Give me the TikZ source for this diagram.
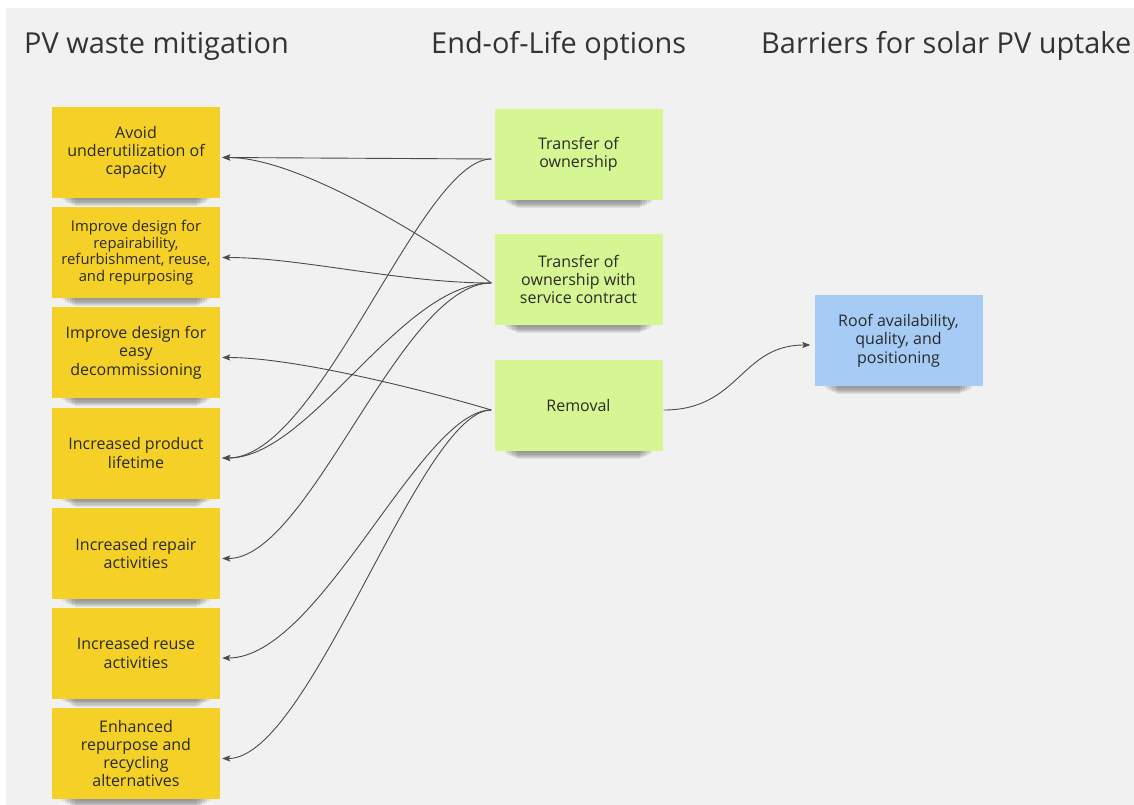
\documentclass[tikz,border=0pt]{standalone}
\usepackage{fontspec}
\setmainfont{Open Sans}
\usetikzlibrary{arrows.meta,calc,backgrounds}
\definecolor{bgc}{HTML}{F1F1F1}
\definecolor{yel}{HTML}{F5D128}
\definecolor{grn}{HTML}{D5F692}
\definecolor{blu}{HTML}{A6CCF5}
\definecolor{txt}{HTML}{2A2A2A}
\definecolor{ttl}{HTML}{333333}
\definecolor{lnc}{HTML}{4A4A4A}
\begin{document}
\begin{tikzpicture}[x=1pt,y=-1pt,
 note/.style={minimum width=168pt, minimum height=91pt, inner sep=2pt, align=center, text=txt, font=\fontsize{16}{18.3}\selectfont},
 ynote/.style={note, fill=yel},
 gnote/.style={note, fill=grn},
 bnote/.style={note, fill=blu},
 title/.style={anchor=base west, text=ttl, font=\fontsize{28.9}{34}\selectfont, inner sep=0pt},
 conn/.style={draw=lnc, line width=0.9pt, -{Stealth[length=8pt,width=6pt,inset=1.5pt]}},
]
\useasboundingbox (0,0) rectangle (1134,805);
\begin{scope}[on background layer]
 \fill[white] (0,0) rectangle (1134,805);
 \fill[bgc] (6,8) rectangle (1134,805);
\end{scope}

% titles
\node[title] (t1) at (24,54) {PV waste mitigation};
\node[title] (t2) at (431,54) {End-of-Life options};
\node[title] (t3) at (761,54) {Barriers for solar PV uptake};

% yellow notes
\node[ynote] (Y1) at (136,152.5) {Avoid\\underutilization of\\capacity};
\node[ynote, font=\fontsize{14.8}{16.5}\selectfont] (Y2) at (136,252.5) {Improve design for\\repairability,\\refurbishment, reuse,\\and repurposing};
\node[ynote] (Y3) at (136,352.5) {Improve design for\\easy\\decommissioning};
\node[ynote] (Y4) at (136,453) {Increased product\\lifetime};
\node[ynote] (Y5) at (136,553.5) {Increased repair\\activities};
\node[ynote] (Y6) at (136,653) {Increased reuse\\activities};
\node[ynote] (Y7) at (136,753.5) {Enhanced\\repurpose and\\recycling\\alternatives};

% green notes
\node[gnote] (G1) at (578.5,154.5) {Transfer of\\ownership};
\node[gnote] (G2) at (578.5,279.5) {Transfer of\\ownership with\\service contract};
\node[gnote] (G3) at (578.5,405.5) {Removal};

% blue note
\node[bnote] (B1) at (898.5,340.5) {Roof availability,\\quality, and\\positioning};

% shadows
\begin{scope}[on background layer]
\foreach \n in {Y1,Y2,Y3,Y4,Y5,Y6,Y7,G1,G2,G3,B1}{
 \foreach \k in {1,...,6}{
  \fill[black,opacity=0.07] ($(\n.south west)+(8+2.5*\k,-3)$) rectangle ($(\n.south east)+(-8-2.5*\k,1.2*\k+1)$);
 }}
\end{scope}

% connector ends
\coordinate (g1o) at ($(G1.west)+(-3,4.5)$);
\coordinate (g2o) at ($(G2.west)+(-3,3.5)$);
\coordinate (g3o) at ($(G3.west)+(-3,4.5)$);
\coordinate (g3r) at ($(G3.east)+(1,4.5)$);
\coordinate (rin) at ($(B1.west)+(-4,4.5)$);
\foreach \i in {1,...,7}{
 \coordinate (y\i i) at ($(Y\i.east)+(2,5)$);
}

% connectors
\draw[conn] (g1o) -- (y1i);
\draw[conn] (g1o) .. controls +(-71,0) and +(98,0) .. (y4i);
\draw[conn] (g2o) .. controls +(-61,-43) and +(78,0) .. (y1i);
\draw[conn] (g2o) .. controls +(-91,0) and +(78,0) .. (y2i);
\draw[conn] (g2o) .. controls +(-91,0) and +(88,0) .. (y4i);
\draw[conn] (g2o) .. controls +(-91,0) and +(88,0) .. (y5i);
\draw[conn] (g3o) .. controls +(-50,-15) and +(78,0) .. (y3i);
\draw[conn] (g3o) .. controls +(-71,0) and +(98,0) .. (y6i);
\draw[conn] (g3o) .. controls +(-71,0) and +(88,0) .. (y7i);
\draw[conn] (g3r) .. controls +(76,0) and +(-70,0) .. (rin);
\end{tikzpicture}
\end{document}
